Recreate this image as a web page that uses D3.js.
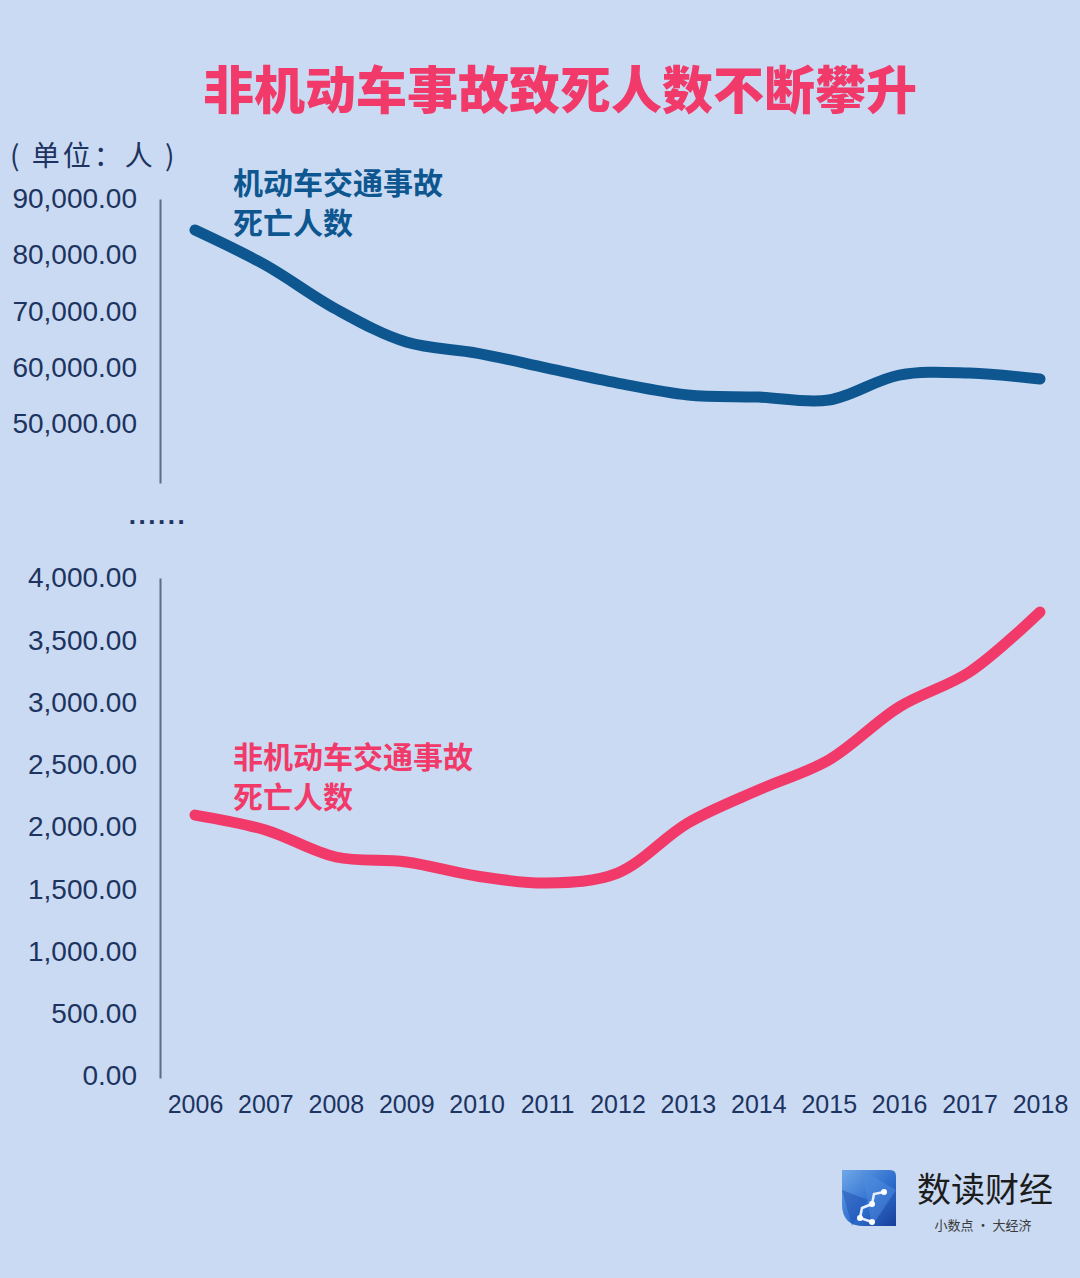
<!DOCTYPE html>
<html>
<head>
<meta charset="utf-8">
<script src="https://cdn.jsdelivr.net/npm/d3@7"></script>
<style>
  html, body { margin: 0; padding: 0; background: #c9daf2; }
  svg { display: block; }
</style>
</head>
<body>
<svg id="chart" width="1080" height="1278"></svg>
<script>
// ---- data ----
const years = ["2006","2007","2008","2009","2010","2011","2012","2013","2014","2015","2016","2017","2018"];
const motorDeaths = [84460, 78210, 70360, 64460, 62500, 59820, 57140, 55000, 54640, 54110, 58570, 58930, 57860];
const nonMotorDeaths = [2096, 1976, 1759, 1719, 1606, 1550, 1630, 2032, 2297, 2538, 2964, 3245, 3727];
const topTicks = [50000, 60000, 70000, 80000, 90000];
const bottomTicks = [0, 500, 1000, 1500, 2000, 2500, 3000, 3500, 4000];
const titleText = "非机动车事故致死人数不断攀升";
const unitText = "( 单位：人 )";
const motorLabel = ["机动车交通事故", "死亡人数"];
const nonMotorLabel = ["非机动车交通事故", "死亡人数"];

const BG = "#c9daf2", BLUE = "#0d5690", PINK = "#f13a69", NAVY = "#1d3360", AXIS = "#5d6b84";
const CJK = "'Noto Sans CJK SC','Noto Sans',sans-serif";
const NUM = "'Liberation Sans',Arial,sans-serif";

const svg = d3.select("#chart");
svg.append("rect").attr("width", 1080).attr("height", 1278).attr("fill", BG);

// title
svg.append("text").attr("x", 560).attr("y", 87).attr("text-anchor", "middle")
  .attr("dominant-baseline", "central")
  .attr("font-family", CJK).attr("font-weight", 900).attr("font-size", 51)
  .attr("fill", PINK).text(titleText);

// unit
svg.append("text").attr("x", 10).attr("y", 154).attr("dominant-baseline", "central")
  .attr("font-family", CJK).attr("font-size", 28).attr("letter-spacing", 3)
  .attr("fill", NAVY).text(unitText);

// scales
const x = d3.scalePoint().domain(years).range([195, 1040]);
const yTop = d3.scaleLinear().domain([39300, 90000]).range([483, 199]);
const yBot = d3.scaleLinear().domain([0, 4000]).range([1076, 578]);

const fmt = d3.format(",.2f");

function styleAxis(g) {
  g.select(".domain").attr("stroke", AXIS).attr("stroke-width", 2);
  g.selectAll(".tick line").remove();
  g.selectAll(".tick text").attr("font-family", NUM).attr("font-size", 28).attr("fill", NAVY);
}

svg.append("g").attr("transform", "translate(160,0)")
  .call(d3.axisLeft(yTop).tickValues(topTicks).tickFormat(fmt).tickSize(0).tickSizeOuter(0).tickPadding(23))
  .call(styleAxis);

svg.append("g").attr("transform", "translate(160,0)")
  .call(d3.axisLeft(yBot.copy().range([1078, 578])).tickValues([]).tickSizeOuter(0))
  .call(styleAxis);
svg.append("g").attr("transform", "translate(160,0)")
  .call(d3.axisLeft(yBot).tickValues(bottomTicks).tickFormat(fmt).tickSize(0).tickSizeOuter(0).tickPadding(23))
  .call(g => { g.select(".domain").remove(); styleAxis(g); });

svg.append("g").attr("transform", "translate(0,1104)")
  .call(d3.axisBottom(x).tickSize(0).tickPadding(0))
  .call(g => {
    g.select(".domain").remove();
    g.selectAll(".tick text").attr("font-family", NUM).attr("font-size", 25)
      .attr("fill", NAVY).attr("dy", "0.35em");
  });

// break dots
svg.append("text").attr("x", 158).attr("y", 524).attr("text-anchor", "middle")
  .attr("font-family", NUM).attr("font-weight", "bold").attr("font-size", 26)
  .attr("letter-spacing", 2.5).attr("fill", NAVY).text("......");

// lines
const lineTop = d3.line().x((d, i) => x(years[i])).y(d => yTop(d)).curve(d3.curveCatmullRom.alpha(0.5));
const lineBot = d3.line().x((d, i) => x(years[i])).y(d => yBot(d)).curve(d3.curveCatmullRom.alpha(0.5));

svg.append("path").attr("d", lineTop(motorDeaths)).attr("fill", "none")
  .attr("stroke", BLUE).attr("stroke-width", 11).attr("stroke-linecap", "round").attr("stroke-linejoin", "round");
svg.append("path").attr("d", lineBot(nonMotorDeaths)).attr("fill", "none")
  .attr("stroke", PINK).attr("stroke-width", 11).attr("stroke-linecap", "round").attr("stroke-linejoin", "round");

// series labels
function label(lines, x0, y0, color) {
  lines.forEach((t, i) => {
    svg.append("text").attr("x", x0).attr("y", y0 + i * 40).attr("dominant-baseline", "central")
      .attr("font-family", CJK).attr("font-weight", "bold").attr("font-size", 30)
      .attr("fill", color).text(t);
  });
}
label(motorLabel, 233, 181, BLUE);
label(nonMotorLabel, 233, 755, PINK);

// logo
const logo = svg.append("g").attr("transform", "translate(842,1170)");
const defs = svg.append("defs");
const grad = defs.append("linearGradient").attr("id", "lg").attr("x1", 0).attr("y1", 0).attr("x2", 1).attr("y2", 1);
grad.append("stop").attr("offset", "0%").attr("stop-color", "#6fa8e8");
grad.append("stop").attr("offset", "55%").attr("stop-color", "#2f6fcf");
grad.append("stop").attr("offset", "100%").attr("stop-color", "#173e9a");
logo.append("path").attr("d", "M0,0 H48 Q54,0 54,6 V56 H22 Q0,56 0,34 Z").attr("fill", "url(#lg)");
logo.append("path").attr("d", "M20,0 L54,20 L30,56 Z").attr("fill", "#4f8be0").attr("opacity", 0.5);
logo.append("path").attr("d", "M0,20 L26,30 L10,56 Z").attr("fill", "#1d4fb0").attr("opacity", 0.5);
logo.append("path").attr("d", "M42,22 L32,24 L30,34 L20,38 L18,48 L30,52")
  .attr("fill", "none").attr("stroke", "#e8f0ff").attr("stroke-width", 2.5);
[[42,22],[30,34],[18,48],[30,52]].forEach(p => logo.append("circle").attr("cx", p[0]).attr("cy", p[1]).attr("r", 3).attr("fill", "#ffffff"));

svg.append("text").attr("x", 985).attr("y", 1187).attr("text-anchor", "middle").attr("dominant-baseline", "central")
  .attr("font-family", CJK).attr("font-size", 34).attr("fill", "#1c1c1c").text("数读财经");
svg.append("text").attr("x", 983).attr("y", 1224).attr("text-anchor", "middle").attr("dominant-baseline", "central")
  .attr("font-family", CJK).attr("font-size", 13).attr("fill", "#3a3a3a").text("小数点 · 大经济");
</script>
</body>
</html>
